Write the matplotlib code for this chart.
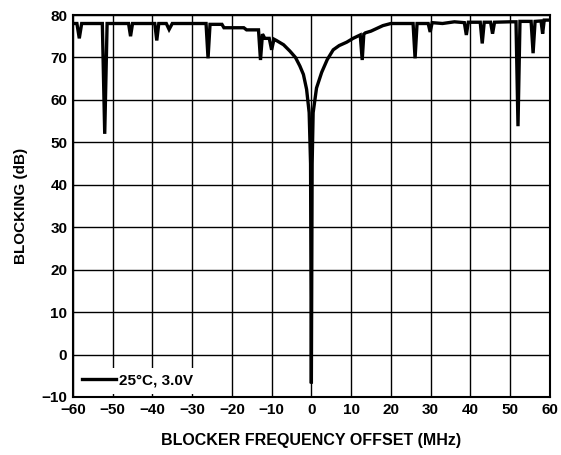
import matplotlib.pyplot as plt

plt.rcParams['font.family'] = ['Liberation Sans', 'DejaVu Sans']
plt.rcParams['font.weight'] = 'bold'

# blocker frequency offset (MHz) and blocking (dB)
freq = [-60.0, -59.0, -58.4, -57.8, -52.6, -52.0, -51.4, -46.0, -45.5, -45.0,
        -39.4, -38.9, -38.4, -36.5, -35.8, -35.0, -26.5, -26.0, -25.5, -24.5,
        -22.5, -22.0, -17.0, -16.3, -13.3, -12.8, -12.3, -11.7, -10.6, -10.0,
        -9.4, -8.8, -7.0, -5.4, -4.0, -2.9, -2.0, -1.2, -0.55, -0.2,
        0.0, 0.2, 0.45, 1.3, 2.6, 4.0, 5.5, 7.0, 8.9, 10.5,
        12.3, 12.8, 13.2, 13.6, 15.0, 18.0, 20.0, 25.6, 26.1, 26.6,
        29.4, 29.9, 30.4, 33.0, 36.0, 38.5, 39.0, 39.5, 42.5, 43.0,
        43.5, 45.1, 45.6, 46.1, 50.0, 51.5, 52.0, 52.5, 55.3, 55.8,
        56.3, 57.8, 58.2, 58.6, 59.0, 60.0]
blocking = [78.0, 78.0, 74.5, 78.0, 78.0, 52.0, 78.0, 78.0, 75.0, 78.0,
            78.0, 74.0, 78.0, 78.0, 76.6, 78.0, 78.0, 69.8, 77.8, 77.8,
            77.8, 77.0, 77.0, 76.5, 76.5, 69.4, 75.5, 74.5, 74.5, 71.8,
            74.3, 74.0, 73.0, 71.5, 70.0, 68.0, 66.0, 62.5, 57.0, 45.0,
            -6.8, 45.0, 57.0, 62.8, 66.5, 69.5, 71.8, 72.8, 73.6, 74.5,
            75.3, 69.4, 75.5, 75.8, 76.2, 77.5, 78.0, 78.0, 69.8, 78.0,
            78.0, 76.0, 78.2, 78.0, 78.4, 78.2, 75.3, 78.3, 78.3, 73.3,
            78.3, 78.3, 75.6, 78.3, 78.4, 78.4, 53.8, 78.5, 78.5, 71.0,
            78.5, 78.6, 75.6, 78.8, 78.8, 78.8]

fig = plt.figure(figsize=(5.61, 4.55), dpi=100)
ax = fig.add_axes([0.130, 0.1275, 0.850, 0.8395])

ax.plot(freq, blocking, color='black', linewidth=2.4, label='25°C, 3.0V',
        solid_joinstyle='miter')

ax.set_xlim(-60, 60)
ax.set_ylim(-10, 80)
ax.set_xticks(range(-60, 61, 10))
ax.set_yticks(range(-10, 81, 10))
ax.tick_params(length=0, labelsize=11, pad=4)
for lbl in ax.get_xticklabels() + ax.get_yticklabels():
    lbl.set_fontweight('bold')

ax.grid(True, color='black', linewidth=1.0)
ax.set_axisbelow(True)
for spine in ax.spines.values():
    spine.set_linewidth(1.5)
    spine.set_color('black')

ax.set_xlabel('BLOCKER FREQUENCY OFFSET (MHz)', fontsize=11.5, fontweight='bold',
              labelpad=12)
ax.set_ylabel('BLOCKING (dB)', fontsize=11, fontweight='bold', labelpad=10)

leg = ax.legend(loc='lower left', frameon=True, fancybox=False, fontsize=11,
                handlelength=2.2, handletextpad=0.2, borderaxespad=0.2)
leg.get_frame().set_edgecolor('none')
leg.get_frame().set_facecolor('white')
leg.get_frame().set_alpha(1.0)
for t in leg.get_texts():
    t.set_fontweight('bold')

fig.savefig('out.png', dpi=100)
